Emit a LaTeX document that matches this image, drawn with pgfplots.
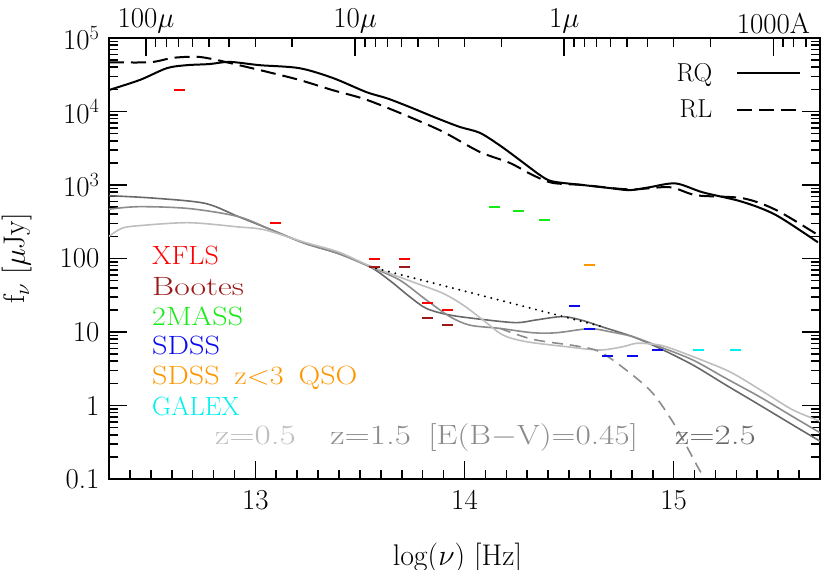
\RequirePackage{fix-cm}
\documentclass[border=0pt]{standalone}
\usepackage{graphicx}
\usepackage{pgfplots}
\pgfplotsset{compat=1.18}
\definecolor{xfls}{RGB}{255,0,0}
\definecolor{bootes}{RGB}{155,25,25}
\definecolor{twomass}{RGB}{20,235,20}
\definecolor{sdss}{RGB}{10,10,240}
\definecolor{qso}{RGB}{255,150,0}
\definecolor{galex}{RGB}{0,240,240}
\definecolor{gdark}{RGB}{105,105,105}
\definecolor{gmid}{RGB}{140,140,140}
\definecolor{glight}{RGB}{190,190,190}
\pgfplotsset{
  common/.style={scale only axis, width=711bp, height=441bp, xmin=12.3, xmax=15.7,
    axis line style={line width=1.8bp}, tick align=inside,
    major tick length=18bp, minor tick length=9bp,
    tick style={line width=1.6bp, black},
    ticklabel style={font=\fontsize{29}{30}\selectfont}},
  dmark/.style={only marks, mark=-, mark size=5.5bp, mark options={line width=2bp}, forget plot},
}
\begin{document}
\begin{tikzpicture}
% top wavelength axis
\begin{axis}[common, ymin=0, ymax=1, xtick pos=right, xticklabel pos=right, ytick=\empty,
  xtick={12.47712,13.47712,14.47712,15.47712},
  xticklabels={$100\mu$,$10\mu$,$1\mu$,1000A},
  xticklabel style={yshift=1bp},
  minor xtick={12.52288,12.57403,12.63202,12.69897,12.77815,12.87506,13.0,13.17609,
    13.52288,13.57403,13.63202,13.69897,13.77815,13.87506,14.0,14.17609,
    14.52288,14.57403,14.63202,14.69897,14.77815,14.87506,15.0,15.17609,
    15.52288,15.57403,15.63202,15.69897}]
\end{axis}
% main axis
\begin{axis}[common, name=ax, ymode=log, ymin=0.1, ymax=1e5,
  xtick pos=left, xticklabel pos=left,
  xtick={13,14,15}, xticklabels={13,14,15},
  xticklabel style={yshift=-8bp},
  yticklabel style={xshift=-6bp},
  minor xtick={12.4,12.5,12.6,12.7,12.8,12.9,13.1,13.2,13.3,13.4,13.5,13.6,13.7,13.8,13.9,
    14.1,14.2,14.3,14.4,14.5,14.6,14.7,14.8,14.9,15.1,15.2,15.3,15.4,15.5,15.6},
  ytick={0.1,1,10,100,1000,10000,100000},
  yticklabels={0.1,1,10,100,$10^3$,$10^4$,$10^5$},
  minor ytick={0.2,0.3,0.4,0.5,0.6,0.7,0.8,0.9,2,3,4,5,6,7,8,9,20,30,40,50,60,70,80,90,
    200,300,400,500,600,700,800,900,2000,3000,4000,5000,6000,7000,8000,9000,
    20000,30000,40000,50000,60000,70000,80000,90000},
  yticklabel pos=left,
  xlabel={log($\nu$) [Hz]}, ylabel={f$_\nu$ [$\mu$Jy]},
  every axis x label/.style={at={(axis description cs:0.49,-0.196)}, anchor=base, font=\fontsize{30}{32}\selectfont},
  every axis y label/.style={at={(axis description cs:-0.129,0.5)}, rotate=90, anchor=center, font=\fontsize{30}{32}\selectfont},
  legend plot pos=right, legend cell align=right,
  legend style={draw=none, fill=none, at={(rel axis cs:0.978,0.952)}, anchor=north east,
    font=\fontsize{26}{28}\selectfont, row sep=13bp,
    /tikz/every odd column/.append style={column sep=22bp}},
  legend image code/.code={\draw[#1] (0bp,0bp) -- (63bp,0bp);},
]
% RQ
\addplot[black, line width=2bp, smooth] coordinates {
(12.30,19600) (12.448,26900) (12.577,38900) (12.673,42700) (12.78,44200) (12.878,47300)
(13.02,42700) (13.21,38900) (13.37,28600) (13.53,18400) (13.63,15100) (13.738,11500)
(13.867,8130) (13.977,6170) (14.073,5130) (14.168,3470) (14.264,2190) (14.36,1370)
(14.42,1120) (14.565,1000) (14.69,912) (14.79,851) (14.885,933) (15.01,1050)
(15.14,794) (15.33,589) (15.49,389) (15.69,166)};
\addlegendentry{RQ}
% RL
\addplot[black, line width=2bp, smooth, dash pattern=on 15bp off 7bp] coordinates {
(12.30,46800) (12.496,46800) (12.606,53700) (12.72,55600) (12.80,51300) (12.878,45700)
(13.055,34700) (13.21,26900) (13.37,19500) (13.53,14500) (13.738,8410) (13.90,5250)
(14.073,2820) (14.216,2000) (14.325,1370) (14.42,1070) (14.565,1000) (14.79,871)
(14.98,933) (15.11,724) (15.33,661) (15.49,457) (15.69,209)};
\addlegendentry{RL}
% z=2.5 (dark)
\addplot[gdark, line width=1.6bp, smooth, forget plot] coordinates {
(12.30,716) (12.52,661) (12.76,562) (12.918,372) (13.077,245) (13.236,161) (13.396,117)
(13.547,77.4) (13.64,50.9) (13.738,30.2) (13.818,20.9) (13.93,17.0) (14.088,14.8)
(14.248,13.4) (14.343,14.6) (14.47,16.2) (14.567,14.3) (14.66,11.7) (14.805,8.63)
(14.933,6.0) (15.092,3.56) (15.25,1.90) (15.41,1.02) (15.57,0.543) (15.70,0.327)};
% z=1.5 (mid)
\addplot[gmid, line width=1.6bp, smooth, forget plot] coordinates {
(12.30,468) (12.44,507) (12.68,479) (12.918,372) (13.077,245) (13.236,161) (13.396,117)
(13.547,77.4) (13.69,50.9) (13.818,27.2) (13.93,16.2) (14.025,12.4) (14.168,11.2)
(14.327,9.77) (14.44,9.77) (14.598,11.1) (14.694,10.1) (14.805,8.63) (14.933,6.31)
(15.092,4.16) (15.25,2.34) (15.41,1.32) (15.57,0.705) (15.70,0.427)};
% z=0.5 (light)
\addplot[glight, line width=1.6bp, smooth, forget plot] coordinates {
(12.30,200) (12.36,257) (12.44,279) (12.68,307) (12.918,269) (13.045,245) (13.236,166)
(13.396,123) (13.547,79.4) (13.77,46.0) (13.897,33.6) (13.993,23.3) (14.088,14.6)
(14.184,9.1) (14.296,7.38) (14.487,6.31) (14.646,5.69) (14.757,6.31) (14.82,7.01)
(14.885,6.9) (14.964,6.31) (15.155,3.94) (15.283,2.74) (15.44,1.47) (15.57,0.871) (15.70,0.612)};
% z=1.5 reddened
\addplot[gmid, line width=1.6bp, smooth, dash pattern=on 11bp off 7bp, forget plot] coordinates {
(14.17,11.2) (14.327,7.94) (14.534,6.46) (14.646,5.40) (14.773,3.04) (14.90,1.47)
(15.01,0.515) (15.124,0.132) (15.14,0.120)};
% power law
\addplot[black, line width=2.2bp, line cap=round, dash pattern=on 0bp off 6.6bp, forget plot] coordinates {
(13.547,77.4) (14.66,11.8)};
% photometric limits
\addplot[dmark, xfls] coordinates {(12.635,19600) (13.097,301) (13.571,98.5) (13.711,98.5) (13.823,25.1) (13.918,20.0)};
\addplot[dmark, bootes] coordinates {(13.571,75.9) (13.711,75.9) (13.823,15.3) (13.918,12.3)};
\addplot[dmark, twomass] coordinates {(14.142,501) (14.256,447) (14.383,334)};
\addplot[dmark, qso] coordinates {(14.60,82.4)};
\addplot[dmark, sdss] coordinates {(14.528,22.8) (14.60,11.0) (14.683,4.76) (14.805,4.76) (14.921,5.69)};
\addplot[dmark, galex] coordinates {(15.12,5.69) (15.294,5.69)};
% labels
\begin{scope}[every node/.style={anchor=base west, font=\fontsize{26.5}{28}\selectfont, inner sep=0pt}]
\node[text=xfls] at (rel axis cs:0.0605,0.4853) {\scalebox{1.06}[1]{XFLS}};
\node[text=bootes] at (rel axis cs:0.0605,0.4172) {\scalebox{1.28}[1]{Bootes}};
\node[text=twomass] at (rel axis cs:0.0605,0.3492) {\scalebox{1.14}[1]{2MASS}};
\node[text=sdss] at (rel axis cs:0.0605,0.2812) {\scalebox{1.15}[1]{SDSS}};
\node[text=qso] at (rel axis cs:0.0605,0.2132) {\scalebox{1.14}[1]{SDSS\hspace{0.5em}z$<$3\hspace{0.5em}QSO}};
\node[text=galex] at (rel axis cs:0.0605,0.1451) {GALEX};
\end{scope}
\begin{scope}[every node/.style={anchor=base west, font=\fontsize{28}{29}\selectfont, inner sep=0pt}]
\node[text=glight] at (rel axis cs:0.149,0.0771) {\scalebox{1.26}[1]{z=0.5}};
\node[text=gmid] at (rel axis cs:0.311,0.0771) {\scalebox{1.26}[1]{z=1.5}};
\node[text=gmid] at (rel axis cs:0.449,0.0771) {\scalebox{1.19}[1]{[E(B$-$V)=0.45]}};
\node[text=gdark] at (rel axis cs:0.796,0.0771) {\scalebox{1.26}[1]{z=2.5}};
\end{scope}
\end{axis}
\pgfresetboundingbox
\path[use as bounding box] ([shift={(-109bp,-91bp)}]ax.south west) rectangle ([shift={(10bp,38bp)}]ax.north east);
\end{tikzpicture}
\end{document}
